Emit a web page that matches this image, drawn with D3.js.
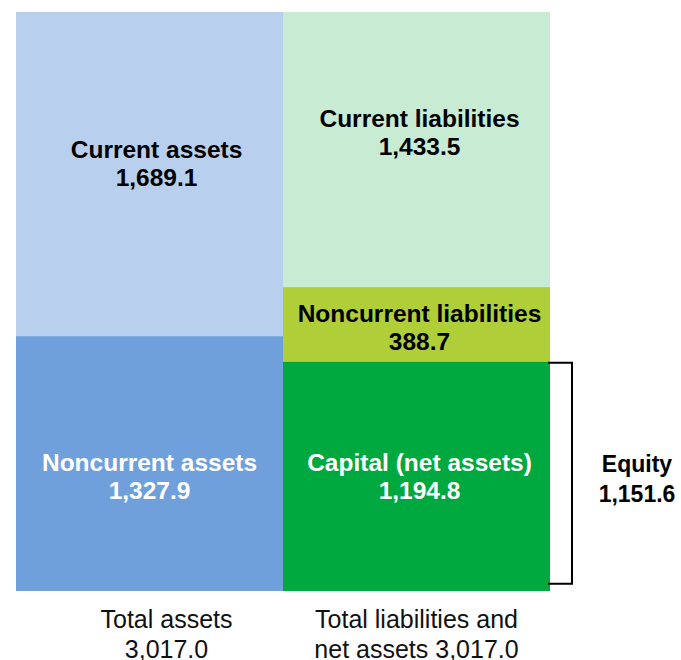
<!DOCTYPE html>
<html>
<head>
<meta charset="utf-8">
<title>Balance sheet</title>
<style>
  body { margin: 0; background: #fff; }
  text { font-family: Arial, "Liberation Sans", sans-serif; }
  text.seg { font-size: 24.5px; font-weight: bold; text-anchor: middle; }
  text.total { font-size: 25px; text-anchor: middle; fill: #111; }
  text.equity { font-size: 23px; font-weight: bold; text-anchor: middle; }
</style>
</head>
<body>
<svg id="chart"></svg>
<script src="https://cdn.jsdelivr.net/npm/d3@7"></script>
<script>
// data
var columns = ['assets', 'liabilities'];
var segNames = ['Current assets', 'Noncurrent assets',
                'Current liabilities', 'Noncurrent liabilities', 'Capital (net assets)'];
var segValues = [1689.1, 1327.9, 1433.5, 388.7, 1194.8];
var segColumn = ['assets', 'assets', 'liabilities', 'liabilities', 'liabilities'];
var totalLabels = [['Total assets', '3,017.0'], ['Total liabilities and', 'net assets 3,017.0']];
var equityValue = 1151.6;

// styles
var segFill = ['#b9cfee', '#70a0db', '#c8ebd4', '#b0ce38', '#00a840'];
var segText = ['#000', '#fff', '#000', '#000', '#fff'];
var labelShift = [-11, 12, -18, 3, 0];  //nudge labels like the original
var labelDx = [7, 0, 3, 3, 3];

var width = 681, height = 660;
var svg = d3.select('#chart')
  .attr('width', width)
  .attr('height', height);

var total = d3.sum(segValues.slice(0, 2));
var x = d3.scaleBand().domain(columns).range([16, 550]).padding(0);
var y = d3.scaleLinear().domain([0, total]).range([591, 12]);

// stack: first segment on top, last at bottom
var segs = segNames.map(function (n, i) {
  return { name: n, value: segValues[i], col: segColumn[i], i: i };
});
columns.forEach(function (c) {
  var inCol = segs.filter(function (d) { return d.col === c; });
  var acc = 0;
  for (var k = inCol.length - 1; k >= 0; k--) {
    inCol[k].y0 = acc;
    acc += inCol[k].value;
    inCol[k].y1 = acc;
  }
});

svg.selectAll('rect.seg')
  .data(segs)
  .enter()
  .append('rect')
  .attr('class', 'seg')
  .attr('x', d => x(d.col))
  .attr('width', x.bandwidth())
  .attr('y', d => y(d.y1))
  .attr('height', d => y(d.y0) - y(d.y1))
  .attr('fill', d => segFill[d.i]);

var fmt = d3.format(',.1f');
var labels = svg.selectAll('text.seg')
  .data(segs)
  .enter()
  .append('text')
  .attr('class', 'seg')
  .attr('fill', d => segText[d.i])
  .attr('transform', d => 'translate(' + (x(d.col) + x.bandwidth() / 2 + labelDx[d.i]) + ',' +
        ((y(d.y0) + y(d.y1)) / 2 + labelShift[d.i]) + ')');
labels.append('tspan').attr('x', 0).attr('y', -5).text(d => d.name);
labels.append('tspan').attr('x', 0).attr('y', 23).text(d => fmt(d.value));

// totals under columns
var tot = svg.selectAll('text.total')
  .data(columns)
  .enter()
  .append('text')
  .attr('class', 'total')
  .attr('transform', (d, i) => 'translate(' + (x(d) + x.bandwidth() / 2 + (i ? 0 : 17)) + ',628)');
tot.append('tspan').attr('x', 0).attr('y', 0).text((d, i) => totalLabels[i][0]);
tot.append('tspan').attr('x', 0).attr('y', 30).text((d, i) => totalLabels[i][1]);

// equity bracket, from top of capital down by equity value
var cap = segs[4];
var bx0 = x('liabilities') + x.bandwidth() - 2, bx1 = 572;
var yTop = y(cap.y1) + 1;
var yBot = yTop + (y(0) - y(equityValue));
svg.append('path')
  .attr('d', 'M' + bx0 + ',' + yTop + 'H' + bx1 + 'V' + yBot + 'H' + bx0)
  .attr('fill', 'none')
  .attr('stroke', '#000')
  .attr('stroke-width', 2);

var eq = svg.append('text')
  .attr('class', 'equity')
  .attr('transform', 'translate(637,' + ((yTop + yBot) / 2) + ')');
eq.append('tspan').attr('x', 0).attr('y', -1).text('Equity');
eq.append('tspan').attr('x', 0).attr('y', 29).text(fmt(equityValue));
</script>
</body>
</html>
